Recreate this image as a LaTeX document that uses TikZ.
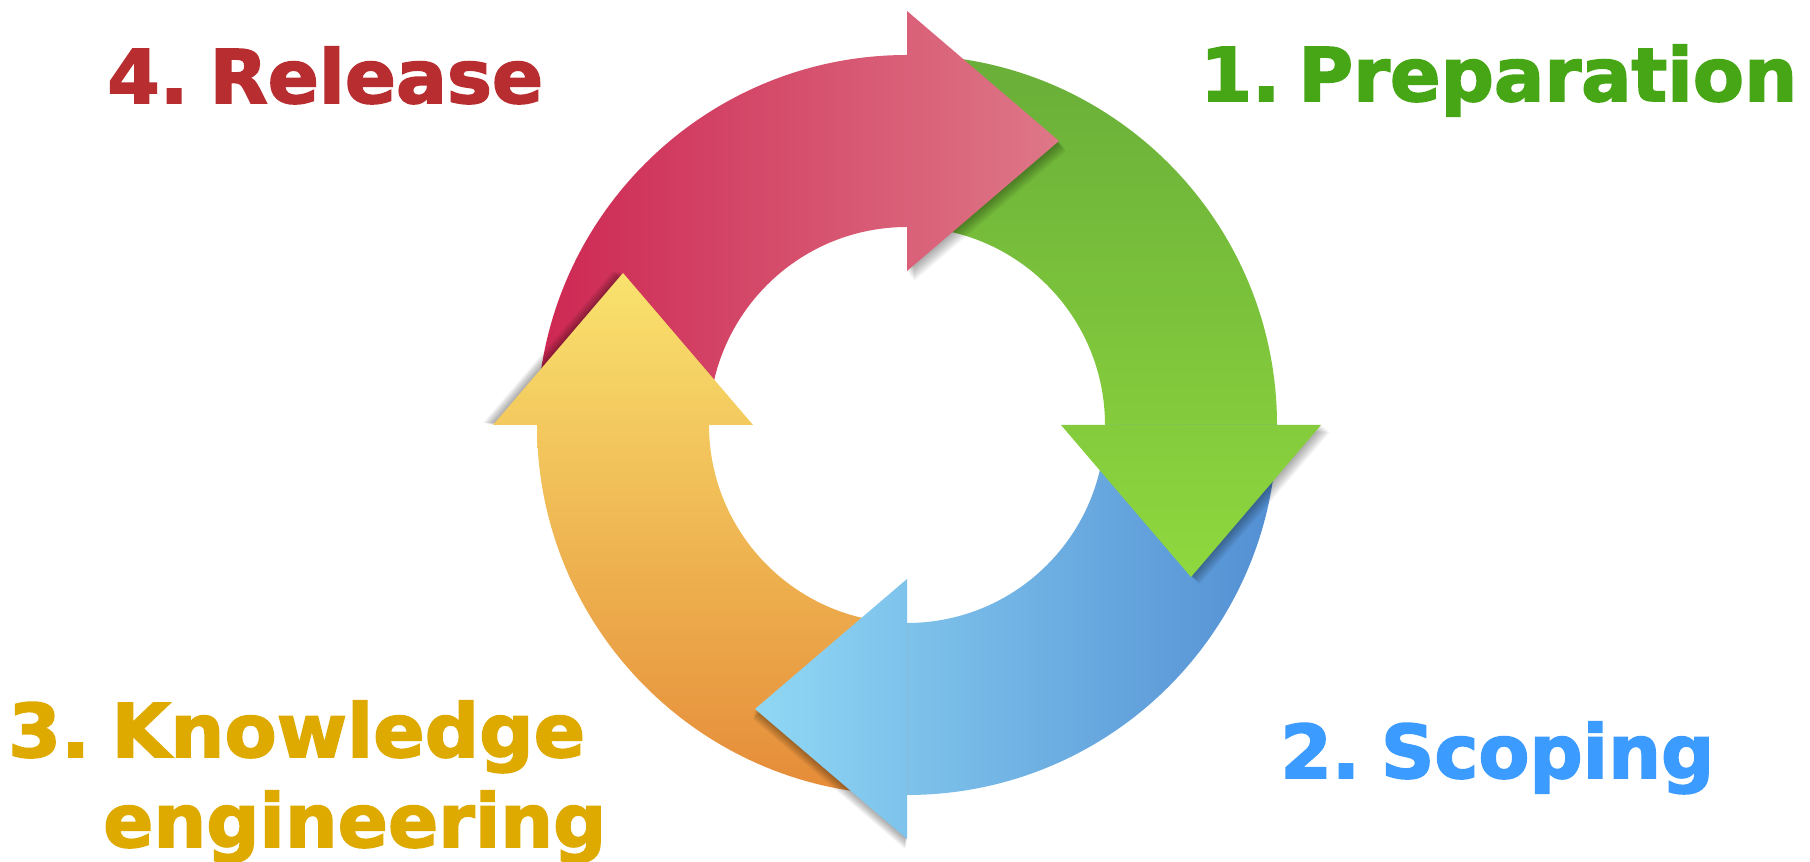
\documentclass[tikz,border=0pt]{standalone}
\usepackage{fontspec}
\setmainfont{DejaVu Sans}[BoldFeatures={FakeBold=2.2}]
\usepackage{graphicx}
\definecolor{redL}{HTML}{CB1C4B}
\definecolor{redR}{HTML}{DE7888}
\definecolor{grnT}{HTML}{68AE39}
\definecolor{grnB}{HTML}{90D83E}
\definecolor{bluL}{HTML}{90D8F5}
\definecolor{bluR}{HTML}{528ED3}
\definecolor{orgT}{HTML}{F9E36E}
\definecolor{orgM}{HTML}{EDB54C}
\definecolor{orgB}{HTML}{E58A38}
\definecolor{txtRed}{HTML}{B82E30}
\definecolor{txtGrn}{HTML}{46A616}
\definecolor{txtBlu}{HTML}{3B9BFF}
\definecolor{txtOrg}{HTML}{DEAA00}
\newcommand\mybody[2]{(#1:370) arc[start angle=#1,end angle=#2,radius=370] -- (#2:198) arc[start angle=#2,end angle=#1,radius=198] -- cycle}
\newcommand\myhead[1]{(#1:414) -- ([shift={(#1:284)}]#1-90:152) -- (#1:154) -- cycle}
\newcommand\myshadow[3]{\foreach \k in {1,...,8}{\fill[black,opacity=0.045,shift={(\k*#2/8,\k*#3/8)}] \myhead{#1};}}
\tikzset{label/.style={anchor=base west,inner sep=0pt,font=\fontsize{74}{80}\selectfont\bfseries}}
\begin{document}
\begin{tikzpicture}[x=1pt,y=1pt]
\useasboundingbox (0,0) rectangle (1810,862);
\fill[white] (0,0) rectangle (1810,862);
\begin{scope}[shift={(907,437)}]
  % bodies
  \begin{scope}\clip \mybody{180}{90};
    \shade[left color=redL,right color=redR] (-440,-20) rectangle (155,425);\end{scope}
  \begin{scope}\clip \mybody{90}{0};
    \shade[top color=grnT,bottom color=grnB] (-10,375) rectangle (420,-155);\end{scope}
  \begin{scope}\clip \mybody{0}{-90};
    \shade[left color=bluL,right color=bluR] (-155,20) rectangle (375,-425);\end{scope}
  \begin{scope}\clip \mybody{-90}{-180};
    \shade[top color=orgT,middle color=orgM,bottom color=orgB] (-425,155) rectangle (20,-375);\end{scope}
  % heads with shadows
  \myshadow{90}{7}{-10}
  \begin{scope}\clip \myhead{90};
    \shade[left color=redL,right color=redR] (-440,-20) rectangle (155,425);\end{scope}
  \myshadow{0}{9}{-7}
  \begin{scope}\clip \myhead{0};
    \shade[top color=grnT,bottom color=grnB] (-10,375) rectangle (420,-155);\end{scope}
  \myshadow{-90}{-2}{-10}
  \begin{scope}\clip \myhead{-90};
    \shade[left color=bluL,right color=bluR] (-155,20) rectangle (375,-425);\end{scope}
  \myshadow{180}{-10}{2}
  \begin{scope}\clip \myhead{180};
    \shade[top color=orgT,middle color=orgM,bottom color=orgB] (-425,155) rectangle (20,-375);\end{scope}
\end{scope}
% labels
\node[label,text=txtRed] (release) at (107,759) {\resizebox{436pt}{\height}{4.\kern-5pt\ Release}};
\node[label,text=txtGrn] (prep) at (1200,761) {\resizebox{597pt}{\height}{1.\kern-8pt\ Preparation}};
\node[label,text=txtBlu] (scoping) at (1280,84) {\resizebox{434pt}{\height}{2.\kern-5pt\ Scoping}};
\node[label,text=txtOrg] (know) at (8,105) {\resizebox{577pt}{\height}{3.\kern-5pt\ Knowledge}};
\node[label,text=txtOrg] (eng) at (103,15) {\resizebox{503pt}{\height}{engineering}};
\end{tikzpicture}
\end{document}
